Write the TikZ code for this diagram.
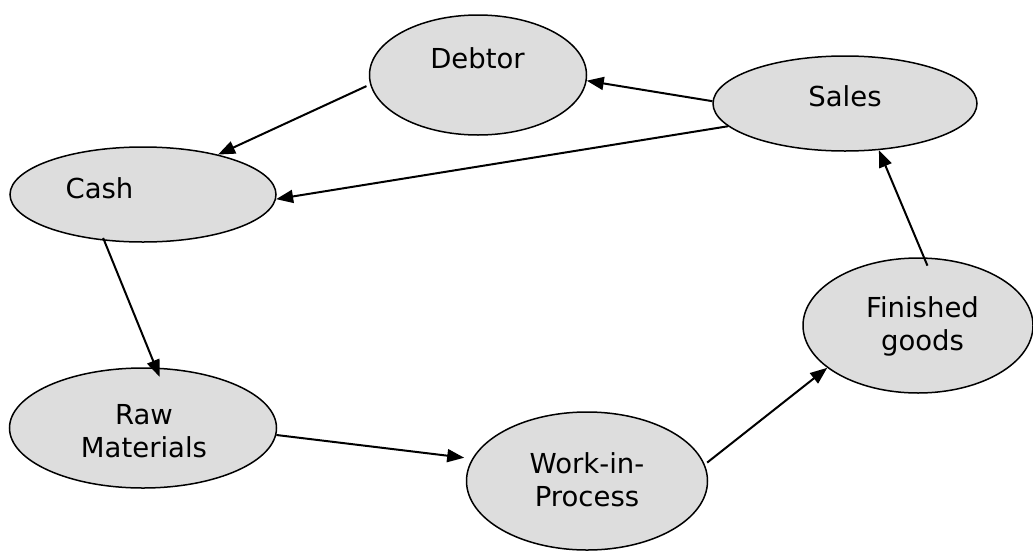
\documentclass[tikz,border=0pt]{standalone}
\usepackage{fontspec}
\setmainfont{DejaVu Sans}
\usetikzlibrary{shapes.geometric,arrows.meta}
\definecolor{ellfill}{HTML}{DDDDDD}
\tikzset{
  ell/.style={ellipse,draw=black,line width=1.5pt,fill=ellfill,inner sep=0pt},
  lbl/.style={font=\fontsize{27.5}{33}\selectfont,align=center,inner sep=0pt},
  flow/.style={line width=2pt,-{Triangle[length=17pt,width=13pt]}}
}
\begin{document}
\begin{tikzpicture}[x=1pt,y=-1pt]
\useasboundingbox (0,0) rectangle (1033,552);
% ellipses
\node[ell,minimum width=217pt,minimum height=120pt] (debtor) at (478,75) {};
\node[ell,minimum width=264pt,minimum height=95pt] (sales) at (845,103.5) {};
\node[ell,minimum width=266pt,minimum height=95pt] (cash) at (143,194.5) {};
\node[ell,minimum width=230pt,minimum height=135pt] (finished) at (918,325.5) {};
\node[ell,minimum width=267pt,minimum height=120pt] (raw) at (143,428) {};
\node[ell,minimum width=241pt,minimum height=138pt] (wip) at (587,481) {};
% labels
\node[lbl] (debtorT) at (477.5,58) {Debtor};
\node[lbl] (salesT) at (845,96) {Sales};
\node[lbl] (cashT) at (99.5,188) {Cash};
\node[lbl] (finishedT) at (922.5,326) {Finished\\goods};
\node[lbl] (rawT) at (144,431.5) {Raw\\Materials};
\node[lbl] (wipT) at (587,480) {Work-in-\\Process};
% connectors
\draw[flow,shorten <=4pt] (debtor.185) -- (cash.28);
\draw[flow] (sales.179) -- (debtor.357);
\draw[flow] (sales.191) -- (cash.358);
\draw[flow,shorten <=-3pt,shorten >=-10pt] (cash.230) -- (raw.78);
\draw[flow,shorten >=8pt] (raw.357) -- (wip.169);
\draw[flow,shorten <=3pt] (wip.8.5) -- (finished.205);
\draw[flow,shorten <=-9pt] (finished.85) -- (sales.306);
\end{tikzpicture}
\end{document}
